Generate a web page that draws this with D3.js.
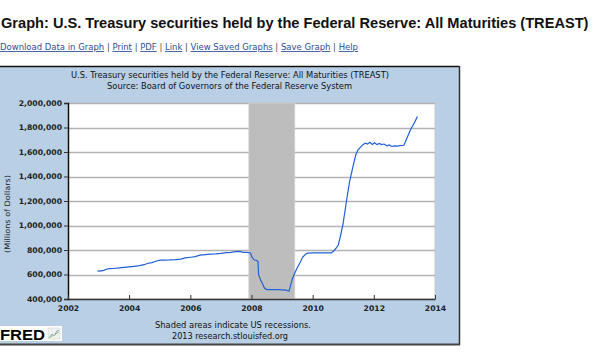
<!DOCTYPE html>
<html><head><meta charset="utf-8">
<script src="https://cdn.jsdelivr.net/npm/d3@7"></script>
<style>
html,body{margin:0;padding:0;background:#fff;overflow:hidden;}
svg{display:block;}
</style></head>
<body>
<svg id="c" width="597" height="357"></svg>
<script>
const pageTitle = "Graph: U.S. Treasury securities held by the Federal Reserve: All Maturities (TREAST)";
const links = ["Download Data in Graph","Print","PDF","Link","View Saved Graphs","Save Graph","Help"];
const chartTitle = "U.S. Treasury securities held by the Federal Reserve: All Maturities (TREAST)";
const chartSource = "Source: Board of Governors of the Federal Reserve System";
const yAxisTitle = "(Millions of Dollars)";
const footer1 = "Shaded areas indicate US recessions.";
const footer2 = "2013 research.stlouisfed.org";
const yTicks = [400000,600000,800000,1000000,1200000,1400000,1600000,1800000,2000000];
const xTickYears = [2002,2004,2006,2008,2010,2012,2014];
const recessionStart = "2007-12-01";
const recessionEnd = "2009-06-01";

const dates = [
"2002-12-18","2003-01-15","2003-03-05","2003-04-02","2003-05-07","2003-07-02","2003-09-03","2003-11-05","2003-12-31",
"2004-03-03","2004-05-05","2004-06-30","2004-08-04","2004-09-29","2004-11-24","2005-01-05","2005-03-02","2005-05-04",
"2005-07-06","2005-09-07","2005-11-02","2006-01-04","2006-03-01","2006-04-26","2006-06-28","2006-08-30","2006-11-01",
"2007-01-03","2007-03-07","2007-05-02","2007-06-27","2007-08-15","2007-09-26","2007-11-07","2007-12-19","2008-01-09",
"2008-02-06","2008-03-05","2008-03-19","2008-03-26","2008-04-16","2008-05-07","2008-06-04","2008-07-02","2008-09-03",
"2008-11-05","2009-01-07","2009-02-18","2009-03-11","2009-03-25","2009-04-15","2009-05-06","2009-06-03","2009-07-01",
"2009-08-05","2009-09-02","2009-10-07","2009-11-04","2009-12-30","2010-03-03","2010-06-02","2010-08-11","2010-09-08",
"2010-10-13","2010-11-03","2010-11-24","2010-12-29","2011-02-09","2011-03-16","2011-04-27","2011-06-01","2011-06-29",
"2011-07-27","2011-08-24","2011-09-21","2011-10-19","2011-11-16","2011-12-14","2012-01-11","2012-02-08","2012-03-07",
"2012-04-04","2012-05-02","2012-06-06","2012-07-04","2012-08-01","2012-09-05","2012-10-03","2012-11-07","2012-12-26",
"2013-01-16","2013-02-13","2013-03-13","2013-04-10","2013-05-08","2013-06-05"];
const values = [
629000,627000,634000,643000,648000,649000,654000,658000,662000,
667000,672000,680000,690000,697000,710000,717000,718000,719000,
722000,726000,735000,741000,746000,758000,763000,766000,768000,
772000,779000,781000,786000,788000,780000,780000,776000,740000,
718000,714000,705000,600000,560000,530000,490000,477000,476000,
476000,475000,473000,466000,465000,520000,570000,615000,655000,
700000,740000,765000,774000,776000,777000,777000,777000,790000,
820000,841000,900000,1010000,1200000,1350000,1480000,1580000,1620000,
1640000,1660000,1672000,1665000,1680000,1662000,1675000,1660000,1670000,
1660000,1665000,1650000,1657000,1645000,1650000,1648000,1652000,1655000,
1690000,1735000,1780000,1815000,1850000,1890000];

const parse = d3.timeParse("%Y-%m-%d");
const data = dates.map((d,i)=>({date:parse(d), value:values[i]}));

const svg = d3.select("#c");
const FONT = "'DejaVu Sans', Verdana, sans-serif";

// page title (font size fitted to the available width, no glyph stretching)
const tt = svg.append("text").attr("x",1).attr("y",28).attr("font-family","'Liberation Sans', Arial, sans-serif").attr("font-weight","bold")
  .attr("font-size",15.5).attr("fill","#111").text(pageTitle);
const tw = tt.node().getComputedTextLength();
if (tw > 588) tt.attr("font-size", 15.5*588/tw);

// links line
const lt = svg.append("text").attr("x",0).attr("y",50).attr("font-family",FONT).attr("font-size",8.6)
  .attr("textLength",358).attr("lengthAdjust","spacingAndGlyphs");
links.forEach((l,i)=>{
  if(i>0) lt.append("tspan").attr("fill","#444").text(" | ");
  lt.append("tspan").attr("fill","#2b4d96").attr("text-decoration","underline").text(l);
});

// panel
const panel = {x:0,y:66,w:459,h:278};
svg.append("rect").attr("x",panel.x-1).attr("y",panel.y).attr("width",panel.w+1).attr("height",panel.h)
  .attr("fill","#b8cfe6");
svg.append("line").attr("x1",0).attr("x2",panel.w).attr("y1",panel.y+0.5).attr("y2",panel.y+0.5).attr("stroke","#111").attr("stroke-width",1.5);
svg.append("line").attr("x1",panel.w+0.5).attr("x2",panel.w+0.5).attr("y1",panel.y).attr("y2",panel.y+panel.h+1).attr("stroke","#333").attr("stroke-width",1.5);
svg.append("line").attr("x1",0).attr("x2",panel.w+1).attr("y1",panel.y+panel.h+0.5).attr("y2",panel.y+panel.h+0.5).attr("stroke","#444").attr("stroke-width",2);

// chart titles
svg.append("text").attr("x",230).attr("y",78).attr("text-anchor","middle").attr("font-family",FONT)
  .attr("font-size",8).attr("fill","#111").attr("textLength",318).attr("lengthAdjust","spacingAndGlyphs").text(chartTitle);
svg.append("text").attr("x",229.5).attr("y",88.5).attr("text-anchor","middle").attr("font-family",FONT)
  .attr("font-size",8).attr("fill","#111").attr("textLength",245).attr("lengthAdjust","spacingAndGlyphs").text(chartSource);

// plot
const P = {l:68,r:435,t:103,b:299};
const x = d3.scaleTime().domain([new Date(2002,0,1), new Date(2014,0,1)]).range([P.l,P.r]);
const y = d3.scaleLinear().domain([400000,2000000]).range([P.b,P.t]);

svg.append("rect").attr("x",P.l).attr("y",P.t).attr("width",P.r-P.l).attr("height",P.b-P.t).attr("fill","#fff")
  .attr("stroke","#c8c8c8").attr("stroke-width",1);

// gridlines
svg.append("g").selectAll("line").data(yTicks.filter(v=>v>400000)).join("line")
  .attr("x1",P.l).attr("x2",P.r).attr("y1",d=>Math.round(y(d))+0.5).attr("y2",d=>Math.round(y(d))+0.5)
  .attr("stroke","#b2b2b2").attr("stroke-width",1.5);

// recession band
svg.append("rect").attr("x",x(parse(recessionStart))).attr("y",P.t)
  .attr("width",x(parse(recessionEnd))-x(parse(recessionStart))).attr("height",P.b-P.t)
  .attr("fill","#bdbdbd").attr("stroke","#cfcfcf").attr("stroke-width",0.8);

// line
svg.append("path").datum(data).attr("fill","none").attr("stroke","#2160d8").attr("stroke-width",1.2)
  .attr("d", d3.line().x(d=>x(d.date)).y(d=>y(d.value)));

// y axis
const fmt = d3.format(",");
const yAx = svg.append("g").attr("transform",`translate(${P.l},0)`)
  .call(d3.axisLeft(y).tickValues(yTicks).tickFormat(fmt).tickSize(4).tickPadding(2));
yAx.select(".domain").attr("stroke","#111").attr("stroke-width",1.5);
yAx.selectAll(".tick line").attr("stroke","#333");
yAx.selectAll("text").attr("font-family",FONT).attr("font-weight","bold").attr("font-size",7.7).attr("fill","#222");

// x axis
const xAx = svg.append("g").attr("transform",`translate(0,${P.b})`)
  .call(d3.axisBottom(x).tickValues(xTickYears.map(yr=>new Date(yr,0,1))).tickFormat(d3.timeFormat("%Y")).tickSizeInner(-4).tickSizeOuter(0).tickPadding(0));
xAx.select(".domain").attr("stroke","#333").attr("stroke-width",1.5);
xAx.selectAll(".tick line").attr("stroke","#333");
xAx.selectAll("text").attr("font-family",FONT).attr("font-weight","bold").attr("font-size",7.7).attr("fill","#222").attr("dy",12);

// y title
svg.append("text").attr("transform","translate(9.5,214) rotate(-90)").attr("text-anchor","middle")
  .attr("font-family",FONT).attr("font-size",7.5).attr("fill","#222").attr("textLength",78).attr("lengthAdjust","spacingAndGlyphs").text(yAxisTitle);

// footer
svg.append("text").attr("x",233).attr("y",328).attr("text-anchor","middle").attr("font-family",FONT)
  .attr("font-size",8.5).attr("fill","#111").attr("textLength",156).attr("lengthAdjust","spacingAndGlyphs").text(footer1);
svg.append("text").attr("x",230).attr("y",338.5).attr("text-anchor","middle").attr("font-family",FONT)
  .attr("font-size",8.5).attr("fill","#111").attr("textLength",116).attr("lengthAdjust","spacingAndGlyphs").text(footer2);

// FRED logo
svg.append("rect").attr("x",0).attr("y",326).attr("width",62).attr("height",15).attr("fill","#fff");
svg.append("text").attr("x",0).attr("y",339.5).attr("font-family","'Liberation Sans', Arial, sans-serif").attr("font-weight","bold")
  .attr("font-size",15).attr("fill","#000").attr("textLength",45).attr("lengthAdjust","spacingAndGlyphs").text("FRED");
const ic = svg.append("g");
ic.append("rect").attr("x",48).attr("y",328).attr("width",12).attr("height",11).attr("fill","#eef2ee").attr("stroke","#c8d0c8").attr("stroke-width",0.5);
ic.append("path").attr("d","M49,338 L52,334 L54,336 L57,331 L59,330").attr("fill","none").attr("stroke","#8aa0b8").attr("stroke-width",1);
ic.append("path").attr("d","M49,338 L52,336 L55,335 L57,333 L59,332").attr("fill","none").attr("stroke","#9cc090").attr("stroke-width",1);
</script>
</body></html>
